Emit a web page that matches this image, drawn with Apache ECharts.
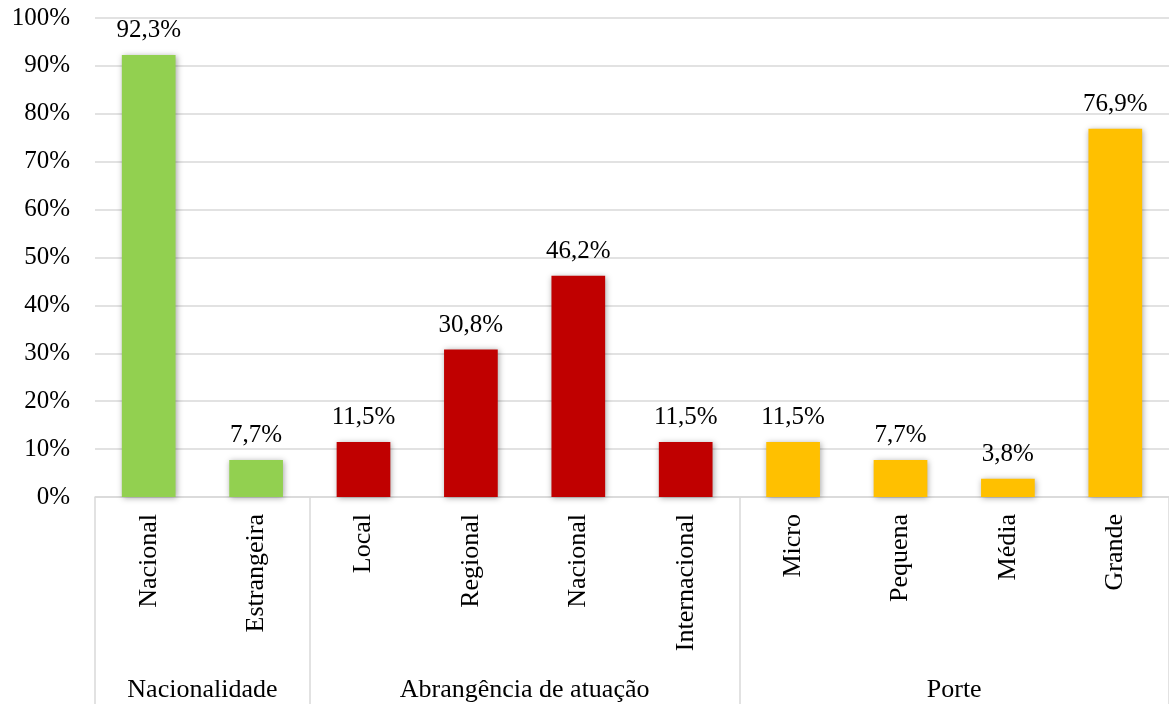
<!DOCTYPE html>
<html>
<head>
<meta charset="utf-8">
<script src="https://cdn.jsdelivr.net/npm/echarts@6/dist/echarts.min.js"></script>
<style>
  html, body { margin: 0; padding: 0; background: #fff; }
  #chart { width: 1169px; height: 704px; }
</style>
</head>
<body>
<div id="chart"></div>
<script>
// Category labels along the x axis, in drawing order
const categories = ['Nacional', 'Estrangeira', 'Local', 'Regional', 'Nacional', 'Internacional', 'Micro', 'Pequena', 'Média', 'Grande'];
// Percent share for each category
const values = [92.3, 7.7, 11.5, 30.8, 46.2, 11.5, 11.5, 7.7, 3.8, 76.9];
// Group headings shown below the category labels, and how many categories each spans
const groupNames = ['Nacionalidade', 'Abrangência de atuação', 'Porte'];
const groupSizes = [2, 4, 4];
const groupColors = ['#92D050', '#C00000', '#FFC000'];
// Y axis tick range
const yTicks = { min: 0, max: 100, step: 10 };

const FONT = '"Liberation Serif", "Times New Roman", serif';

// Boundaries and centres of each group along the category span
const boundaries = [0];
groupSizes.forEach(n => boundaries.push(boundaries[boundaries.length - 1] + n));
const centres = groupSizes.map((n, i) => boundaries[i] + n / 2);

const barData = values.map((v, i) => {
  let g = 0;
  while (i >= boundaries[g + 1]) g++;
  return { value: v, itemStyle: { color: groupColors[g] } };
});

const chart = echarts.init(document.getElementById('chart'), null, { renderer: 'canvas' });
chart.setOption({
  animation: false,
  backgroundColor: '#ffffff',
  grid: { left: 95, top: 18, width: 1079, height: 479, containLabel: false },
  xAxis: [
    {
      type: 'category',
      data: categories,
      axisLine: { show: true, lineStyle: { color: '#d9d9d9', width: 1.5 } },
      axisTick: { show: false },
      axisLabel: {
        rotate: 90,
        margin: 17,
        interval: 0,
        color: '#000',
        fontFamily: FONT,
        fontSize: 26
      }
    },
    {
      // group headings and separators beneath the categories
      type: 'value',
      position: 'bottom',
      min: 0,
      max: categories.length,
      axisLine: { show: false },
      splitLine: { show: false },
      axisTick: {
        show: true,
        customValues: boundaries,
        length: 212,
        lineStyle: { color: '#d9d9d9', width: 1.5 }
      },
      axisLabel: {
        customValues: centres,
        margin: 180,
        color: '#000',
        fontFamily: FONT,
        fontSize: 26,
        formatter: v => groupNames[centres.indexOf(v)] || ''
      }
    }
  ],
  yAxis: {
    type: 'value',
    min: yTicks.min,
    max: yTicks.max,
    interval: yTicks.step,
    axisLine: { show: false },
    axisTick: { show: false },
    splitLine: { show: true, lineStyle: { color: '#d9d9d9', width: 1.5 } },
    axisLabel: {
      margin: 25,
      color: '#000',
      fontFamily: FONT,
      fontSize: 25,
      formatter: '{value}%'
    }
  },
  series: [{
    type: 'bar',
    xAxisIndex: 0,
    data: barData,
    barWidth: '50%',
    itemStyle: {
      shadowBlur: 6,
      shadowColor: 'rgba(0,0,0,0.35)',
      shadowOffsetX: 1,
      shadowOffsetY: 1
    },
    label: {
      show: true,
      position: 'top',
      distance: 12,
      color: '#000',
      fontFamily: FONT,
      fontSize: 25,
      formatter: p => p.value.toFixed(1).replace('.', ',') + '%'
    }
  }]
});
</script>
</body>
</html>
